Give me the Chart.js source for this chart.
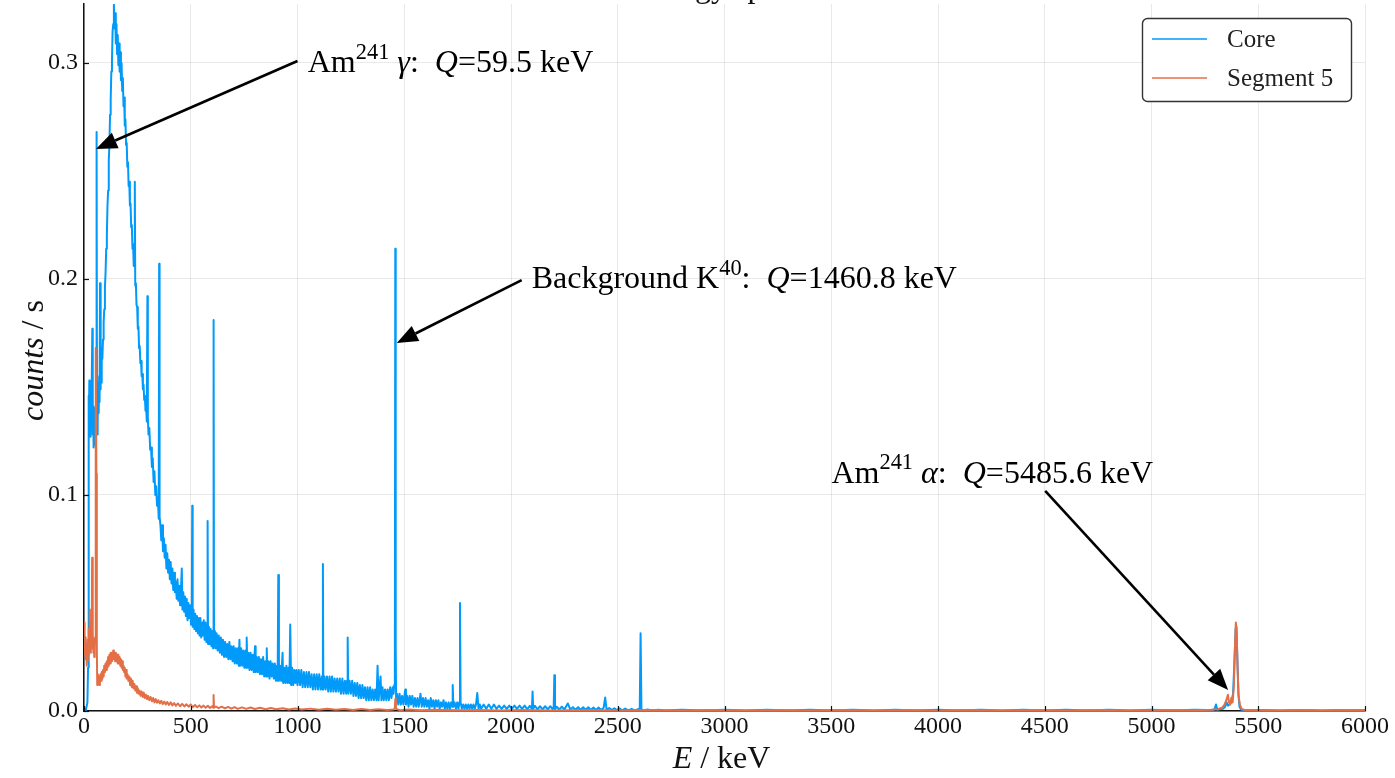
<!DOCTYPE html>
<html><head><meta charset="utf-8">
<script src="https://cdn.jsdelivr.net/npm/chart.js@4.4.1/dist/chart.umd.min.js"></script>
<style>html,body{margin:0;padding:0;background:#fff;overflow:hidden}canvas{display:block}</style>
</head><body>
<canvas id="c" width="1395" height="778"></canvas>
<script>
// ---------- data ----------
const chartTitle = 'Energy spectra';
const seriesNames = ['Core', 'Segment 5'];
const xTicks = [0,500,1000,1500,2000,2500,3000,3500,4000,4500,5000,5500,6000];
const yTicks = [0.0,0.1,0.2,0.3];
const xRange = [0, 6000];
const yRange = [0, 0.3273];

// Core detector: [energy keV, counts/s]
const coreSpectrum = [
[0,0],[4,0.001],[8,0],[12,0.002],[16,0.004],[19,0.02],
[21,0.146],[23,0.128],[25,0.153],[27,0.131],[29,0.149],[31,0.127],[33,0.145],[35,0.132],[37,0.15],[39,0.177],[41,0.128],[43,0.141],[45,0.122],[47,0.138],[49,0.124],[51,0.14],[53,0.123],[55,0.137],[57,0.13],[59,0.268],[61,0.128],[63,0.146],[65,0.134],[67,0.152],[69,0.138],[71,0.155],[73,0.143],[75,0.198],[77,0.149],[79,0.16],[81,0.152],[83,0.168],
[86,0.163],[89,0.172],[92,0.18],[95,0.186],[98,0.196],[101,0.203],[104,0.214],[107,0.22],[110,0.234],[113,0.241],[116,0.255],[119,0.262],[122,0.276],[125,0.283],[128,0.296],[131,0.301],[134,0.315],[137,0.318],[140,0.327],[143,0.316],[146,0.323],[149,0.309],[152,0.318],[155,0.304],[158,0.313],[161,0.299],[164,0.309],[167,0.296],[170,0.305],[173,0.292],[176,0.3],[179,0.287],[182,0.293],[185,0.28],[188,0.284],[191,0.271],[194,0.274],[197,0.262],[200,0.263],[203,0.252],[206,0.254],[209,0.243],[212,0.245],[215,0.234],[218,0.235],[221,0.224],[224,0.225],[227,0.214],[230,0.216],[233,0.206],[236,0.207],[238,0.245],[240,0.197],[243,0.198],[246,0.188],[249,0.187],[252,0.177],[255,0.178],[258,0.168],[261,0.169],[264,0.161],[267,0.162],[270,0.155],[273,0.156],[276,0.149],[279,0.151],[282,0.144],[285,0.146],[288,0.139],[291,0.141],[294,0.134],[297,0.192],[299,0.136],[302,0.128],
[306,0.131],[310,0.121],[314,0.122],[318,0.113],[322,0.117],[326,0.106],[330,0.111],[334,0.1],[338,0.104],[342,0.095],[346,0.099],[350,0.089],[352,0.207],[354,0.09],[358,0.086],[362,0.079],[366,0.086],[370,0.074],[374,0.08],[378,0.071],[382,0.077],[386,0.066],[390,0.073],[394,0.064],[398,0.07],[402,0.061],
[406,0.069],[410,0.059],[414,0.066],[418,0.056],[422,0.064],[426,0.055],[430,0.06],[434,0.052],[438,0.061],[442,0.051],[446,0.058],[450,0.049],[454,0.056],[458,0.066],[461,0.047],[465,0.055],[469,0.046],[473,0.053],[477,0.044],[481,0.052],[485,0.042],[489,0.05],[493,0.043],[497,0.049],[501,0.04],[505,0.047],[507,0.095],[509,0.039],[513,0.047],[517,0.038],[521,0.045],[525,0.037],[529,0.044],[533,0.036],[537,0.043],[541,0.035],[545,0.043],[549,0.034],[553,0.041],[557,0.035],[561,0.042],[565,0.033],[569,0.041],[573,0.032],[577,0.04],[579,0.088],[581,0.031],[585,0.039],[589,0.031],[593,0.038],[597,0.03],[601,0.037],[605,0.029],[607,0.181],[609,0.03],[613,0.037],[617,0.029],[621,0.036],[626,0.028],[631,0.035],[636,0.027],[641,0.034],[646,0.026],[651,0.033],[656,0.025],[661,0.032],[666,0.025],[671,0.031],[676,0.024],[681,0.032],[686,0.024],[691,0.03],[696,0.023],[701,0.03],[706,0.022],[711,0.029],[716,0.022],[721,0.029],[725,0.021],[728,0.033],[731,0.021],[736,0.029],[741,0.021],[746,0.028],[751,0.02],[756,0.028],[759,0.02],[762,0.034],[765,0.02],[770,0.027],[775,0.019],[780,0.027],[785,0.019],[790,0.026],[795,0.018],[799,0.026],[801,0.03],[804,0.018],[809,0.025],[814,0.018],[819,0.025],[824,0.017],[829,0.024],[834,0.017],[839,0.025],[844,0.016],[849,0.023],[853,0.016],[856,0.029],[859,0.016],[864,0.023],[869,0.015],[874,0.023],[879,0.016],[884,0.022],[889,0.015],[894,0.022],[899,0.014],[904,0.021],[907,0.014],[910,0.063],[913,0.014],[918,0.021],[923,0.014],[927,0.021],[930,0.027],[933,0.013],[938,0.02],[943,0.013],[948,0.021],[953,0.013],[958,0.02],[962,0.013],[966,0.04],[970,0.012],[975,0.02],[980,0.012],[985,0.019],[990,0.013],[995,0.019],[1000,0.012],[1006,0.019],[1012,0.012],[1018,0.019],[1024,0.011],[1030,0.018],[1036,0.011],[1042,0.018],[1048,0.011],[1054,0.018],[1060,0.011],[1066,0.017],[1072,0.01],[1078,0.017],[1084,0.01],[1090,0.017],[1096,0.01],[1102,0.017],[1108,0.01],[1114,0.016],[1117,0.01],[1119,0.068],[1121,0.01],[1126,0.016],[1132,0.01],[1138,0.016],[1144,0.009],[1150,0.016],[1156,0.009],[1162,0.016],[1168,0.009],[1174,0.015],[1180,0.009],[1186,0.015],[1192,0.009],[1198,0.015],[1204,0.008],[1210,0.015],[1216,0.008],[1222,0.014],[1228,0.008],[1232,0.014],[1235,0.034],[1238,0.008],[1244,0.014],[1250,0.008],[1256,0.014],[1262,0.007],[1268,0.013],[1274,0.007],[1280,0.013],[1286,0.006],[1292,0.012],[1298,0.006],[1304,0.012],[1310,0.006],[1316,0.011],[1322,0.005],[1328,0.011],[1334,0.005],[1340,0.011],[1346,0.005],[1352,0.01],[1358,0.005],[1364,0.01],[1370,0.005],[1375,0.021],[1380,0.005],[1385,0.011],[1389,0.016],[1393,0.005],[1398,0.011],[1404,0.005],[1410,0.01],[1416,0.005],[1422,0.01],[1428,0.005],[1434,0.011],[1440,0.006],[1446,0.011],[1450,0.008],[1453,0.012],
[1456,0.02],[1458,0.214],[1460,0.03],[1462,0.004],[1466,0.008],[1472,0.003],[1478,0.008],[1484,0.003],[1490,0.007],[1496,0.003],[1502,0.008],[1505,0.01],[1508,0.003],[1514,0.007],[1520,0.002],[1526,0.007],[1532,0.003],[1538,0.007],[1544,0.002],[1550,0.006],[1556,0.002],[1562,0.006],[1568,0.002],[1576,0.008],[1582,0.002],[1588,0.006],[1594,0.002],[1600,0.006],[1606,0.002],[1612,0.005],[1618,0.001],[1624,0.006],[1630,0.002],[1636,0.005],[1642,0.001],[1648,0.005],[1654,0.002],[1660,0.005],[1666,0.001],[1672,0.004],[1678,0.002],[1684,0.005],[1690,0.001],[1696,0.004],[1702,0.001],[1708,0.004],[1714,0.001],[1720,0.004],[1724,0.002],[1727,0.012],[1730,0.002],[1736,0.004],[1742,0.001],[1748,0.004],[1754,0.001],[1758,0.004],[1761,0.05],[1764,0.004],[1770,0.001],[1776,0.003],[1782,0.001],[1788,0.003],[1794,0.001],[1800,0.003],[1806,0.001],[1812,0.003],[1818,0.001],[1824,0.003],[1830,0.001],[1836,0.003],[1842,0.0083],[1848,0.001],[1854,0.003],[1860,0.001],[1872,0.003],[1884,0.001],[1896,0.003],[1908,0.001],[1920,0.003],[1932,0.001],[1944,0.0025],[1956,0.001],[1968,0.0025],[1980,0.001],[1992,0.0025],[2004,0.001],[2016,0.0025],[2028,0.001],[2040,0.0025],[2052,0.001],[2064,0.0025],[2076,0.0008],[2088,0.0024],[2098,0.001],[2101,0.009],[2104,0.001],[2112,0.0024],[2124,0.0008],[2136,0.0022],[2148,0.0008],[2160,0.0022],[2172,0.0008],[2184,0.0022],[2196,0.0008],[2200,0.002],[2203,0.0166],[2206,0.0008],[2214,0.002],[2226,0.0007],[2238,0.002],[2250,0.0007],[2266,0.0035],[2278,0.0007],[2290,0.0018],[2302,0.0006],[2314,0.0018],[2326,0.0006],[2338,0.0017],[2350,0.0006],[2362,0.0017],[2374,0.0005],[2386,0.0016],[2398,0.0005],[2410,0.0016],[2422,0.0005],[2434,0.0015],[2441,0.0062],[2448,0.0005],[2460,0.0014],[2472,0.0004],[2484,0.0013],[2496,0.0004],[2508,0.0012],[2520,0.0003],[2535,0.0011],[2550,0.0003],[2565,0.001],[2580,0.0002],[2595,0.0008],[2603,0.001],[2607,0.036],[2611,0.0008],[2620,0.0002],[2640,0.0007],[2660,0.0002],[2690,0.0006],[2720,0.0002],
[2800,0.0006],[2900,0.0002],[3000,0.0006],[3100,0.0002],[3200,0.0006],[3300,0.0002],[3400,0.0006],[3500,0.0002],[3600,0.0006],[3700,0.0002],[3800,0.0006],[3900,0.0002],[4000,0.0006],[4100,0.0002],[4200,0.0006],[4300,0.0002],[4400,0.0006],[4500,0.0002],[4600,0.0006],[4700,0.0002],[4800,0.0006],[4900,0.0002],[5000,0.0006],[5100,0.0002],[5200,0.0006],
[5260,0.0005],[5280,0.0003],[5295,0.0008],[5302,0.003],[5308,0.0006],[5320,0.0008],[5335,0.001],[5345,0.002],[5352,0.004],[5358,0.0025],[5366,0.003],[5374,0.004],[5382,0.008],[5388,0.022],[5394,0.038],[5398,0.039],[5402,0.025],[5407,0.008],[5412,0.002],[5420,0.0006],[5440,0.0003],
[5500,0.0005],[5600,0.0002],[5700,0.0005],[5800,0.0002],[5900,0.0005],[6000,0.0003]
];

// Segment 5: [energy keV, counts/s]
const segSpectrum = [
[0,0.03],[2,0.041],[4,0.026],[6,0.034],[8,0.024],[10,0.031],[12,0.021],[14,0.029],[16,0.023],[18,0.033],[20,0.026],[22,0.038],[24,0.028],[26,0.047],[28,0.03],[30,0.036],[32,0.027],[34,0.041],[36,0.029],[38,0.071],[40,0.031],[42,0.036],[44,0.027],[46,0.033],[48,0.025],[50,0.03],[52,0.034],[54,0.045],[56,0.168],[58,0.11],[60,0.03],[62,0.012],[65,0.017],[68,0.013],[71,0.016],[74,0.012],[77,0.017],[80,0.014],[83,0.018],[86,0.015],[89,0.019],[92,0.016],[95,0.021],[98,0.018],[101,0.022],[104,0.019],[107,0.023],[110,0.02],[113,0.025],[116,0.021],[119,0.026],[122,0.022],[125,0.027],[128,0.023],[131,0.027],[134,0.024],[137,0.028],[140,0.024],[143,0.027],[146,0.023],[149,0.027],[152,0.023],[155,0.026],[158,0.022],[161,0.026],[164,0.022],[167,0.025],[170,0.021],[173,0.024],[176,0.02],[179,0.023],[182,0.019],[185,0.021],[188,0.018],[191,0.02],[194,0.016],[197,0.019],[200,0.015],[204,0.017],[208,0.014],[212,0.016],[216,0.012],[220,0.015],[224,0.011],[228,0.014],[232,0.0105],[236,0.0125],[240,0.0095],[244,0.0115],[248,0.0085],[252,0.0105],[256,0.008],[260,0.0095],[265,0.007],[270,0.009],[275,0.0065],[280,0.0085],[285,0.006],[290,0.0075],[295,0.0055],[300,0.007],[306,0.005],[312,0.0065],[318,0.0045],[324,0.006],[330,0.004],[336,0.0055],[342,0.0038],[348,0.005],[355,0.0035],[362,0.0047],[369,0.0032],[376,0.0044],[383,0.003],[390,0.0042],[398,0.0028],[406,0.004],[414,0.0026],[422,0.0037],[430,0.0024],[440,0.0035],[450,0.0022],[460,0.0033],[470,0.0021],[480,0.0031],[490,0.002],[500,0.003],[510,0.0018],[520,0.0028],[530,0.0017],[540,0.0026],[550,0.0016],[560,0.0025],[570,0.0015],[580,0.0024],[590,0.0014],[600,0.0022],[605,0.0015],[607,0.0074],[609,0.0015],[618,0.0021],[630,0.0013],[645,0.002],[660,0.0012],[675,0.0019],[690,0.0011],[705,0.0018],[720,0.001],[740,0.0017],[760,0.001],[780,0.0016],[800,0.0009],[825,0.0015],[850,0.0008],[875,0.0014],[900,0.0008],[930,0.0013],[960,0.0007],[990,0.0012],[1020,0.0007],[1060,0.0011],[1100,0.0006],[1140,0.001],[1180,0.0006],[1220,0.0009],[1260,0.0005],[1300,0.0009],[1340,0.0005],[1380,0.0008],[1420,0.0005],[1450,0.0007],[1456,0.0015],[1458,0.0055],[1461,0.001],[1480,0.0004],[1520,0.0007],[1580,0.0003],[1650,0.0006],[1750,0.0003],[1850,0.0005],[1950,0.0002],[2050,0.0005],[2200,0.0002],[2350,0.0005],[2500,0.0002],[2650,0.0005],[2800,0.0002],[2950,0.0005],[3100,0.0002],[3250,0.0005],[3400,0.0002],[3550,0.0005],[3700,0.0002],[3850,0.0005],[4000,0.0002],[4150,0.0005],[4300,0.0002],[4450,0.0005],[4600,0.0002],[4750,0.0005],[4900,0.0002],[5050,0.0005],[5200,0.0003],[5280,0.0006],[5310,0.0008],[5330,0.0015],[5342,0.003],[5352,0.0055],[5358,0.0075],[5363,0.004],[5368,0.003],[5374,0.006],[5380,0.004],[5386,0.012],[5391,0.03],[5395,0.041],[5399,0.036],[5403,0.02],[5408,0.007],[5414,0.003],[5422,0.001],[5440,0.0004],[5500,0.0005],[5600,0.0002],[5700,0.0005],[5800,0.0002],[5900,0.0005],[6000,0.0003]
];

// annotations (arrow tail, arrow tip, label anchor — all in data units)
const annotations = [
  {tail:[1000,0.3009], tip:[56,0.2602], at:[1048,0.3005],
   parts:[{t:'Am'},{t:'241',sup:1},{t:' '},{t:'\u03B3',it:1},{t:':  '},{t:'Q',it:1},{t:'=59.5 keV'}]},
  {tail:[2050,0.1995], tip:[1465,0.1704], at:[2097,0.2005],
   parts:[{t:'Background K'},{t:'40',sup:1},{t:':  '},{t:'Q',it:1},{t:'=1460.8 keV'}]},
  {tail:[4502,0.1019], tip:[5359,0.0097], at:[3501,0.1106],
   parts:[{t:'Am'},{t:'241',sup:1},{t:' '},{t:'\u03B1',it:1},{t:':  '},{t:'Q',it:1},{t:'=5485.6 keV'}]}
];

// ---------- style ----------
const COLORS = ['#009AFA', '#E36F47'];
const FF = '"Liberation Serif","Times New Roman",serif';
const fnt = (s, it) => (it ? 'italic ' : '') + s + 'px ' + FF;

function drawRich(ctx, parts, x, base, size, align) {
  const ws = []; let w = 0;
  for (const p of parts) { ctx.font = fnt(p.sup ? size*0.7 : size, p.it); const m = ctx.measureText(p.t).width; ws.push(m); w += m; }
  let cx = align === 'center' ? x - w/2 : x;
  ctx.textAlign = 'left'; ctx.textBaseline = 'alphabetic';
  parts.forEach((p, i) => {
    ctx.font = fnt(p.sup ? size*0.7 : size, p.it);
    ctx.fillText(p.t, cx, p.sup ? base - size*0.42 : base);
    cx += ws[i];
  });
}

function arrow(ctx, x1, y1, x2, y2) {
  const a = Math.atan2(y2 - y1, x2 - x1), L = 21, W = 8.5;
  const bx = x2 - L*Math.cos(a), by = y2 - L*Math.sin(a);
  ctx.beginPath(); ctx.moveTo(x1, y1); ctx.lineTo(bx, by);
  ctx.lineWidth = 2.6; ctx.strokeStyle = '#000'; ctx.stroke();
  ctx.beginPath(); ctx.moveTo(x2, y2);
  ctx.lineTo(bx + W*Math.sin(a), by - W*Math.cos(a));
  ctx.lineTo(bx - W*Math.sin(a), by + W*Math.cos(a));
  ctx.closePath(); ctx.fillStyle = '#000'; ctx.fill();
}

const decor = {
  id: 'decor',
  afterDatasetsDraw(chart) {
    const {ctx, chartArea: ca, scales: {x, y}} = chart;
    ctx.save();
    // inner tick marks
    ctx.strokeStyle = '#111'; ctx.lineWidth = 1.2;
    xTicks.forEach(v => { const px = Math.round(x.getPixelForValue(v)) + 0.5; ctx.beginPath(); ctx.moveTo(px, ca.bottom); ctx.lineTo(px, ca.bottom - 5); ctx.stroke(); });
    yTicks.forEach(v => { const py = Math.round(y.getPixelForValue(v)) + 0.5; ctx.beginPath(); ctx.moveTo(ca.left, py); ctx.lineTo(ca.left + 5, py); ctx.stroke(); });
    // annotations
    const AS = 32;
    annotations.forEach(a => {
      arrow(ctx, x.getPixelForValue(a.tail[0]), y.getPixelForValue(a.tail[1]), x.getPixelForValue(a.tip[0]), y.getPixelForValue(a.tip[1]));
      ctx.fillStyle = '#000';
      drawRich(ctx, a.parts, x.getPixelForValue(a.at[0]), y.getPixelForValue(a.at[1]) + AS*0.33, AS, 'left');
    });
    // legend
    const bw = 209, bh = 83, bx = ca.right - 14 - bw, by = ca.top + 14;
    ctx.beginPath(); ctx.roundRect(bx + 0.5, by + 0.5, bw, bh, 5);
    ctx.fillStyle = '#fff'; ctx.fill(); ctx.lineWidth = 1.4; ctx.strokeStyle = '#333'; ctx.stroke();
    seriesNames.forEach((n, i) => {
      const ly = by + 21 + i*39;
      ctx.beginPath(); ctx.moveTo(bx + 10, ly); ctx.lineTo(bx + 65, ly);
      ctx.strokeStyle = COLORS[i]; ctx.lineWidth = 1.6; ctx.stroke();
      ctx.fillStyle = '#222'; ctx.font = fnt(25); ctx.textAlign = 'left'; ctx.textBaseline = 'middle';
      ctx.fillText(n, bx + 85, ly + 1);
    });
    // axis titles
    ctx.fillStyle = '#111';
    drawRich(ctx, [{t:'E', it:1}, {t:' / keV'}], (ca.left + ca.right)/2 - 3, 768, 32, 'center');
    ctx.save();
    ctx.translate(43, (ca.top + ca.bottom)/2 + 3); ctx.rotate(-Math.PI/2);
    drawRich(ctx, [{t:'counts', it:1}, {t:' / s'}], 0, 0, 32, 'center');
    ctx.restore();
    // title (cut by the top edge)
    ctx.font = fnt(32); ctx.textAlign = 'center'; ctx.textBaseline = 'alphabetic'; ctx.fillStyle = '#111';
    ctx.fillText(chartTitle, (ca.left + ca.right)/2 + 6, -3);
    ctx.restore();
  }
};

const toXY = arr => arr.map(p => ({x: p[0], y: p[1]}));

new Chart(document.getElementById('c'), {
  type: 'line',
  data: {
    datasets: [
      {label: seriesNames[0], data: toXY(coreSpectrum), borderColor: COLORS[0], borderWidth: 2, pointRadius: 0, borderJoinStyle: 'round', fill: false, order: 2},
      {label: seriesNames[1], data: toXY(segSpectrum), borderColor: COLORS[1], borderWidth: 2, pointRadius: 0, borderJoinStyle: 'round', fill: false, order: 1}
    ]
  },
  options: {
    responsive: false, animation: false, events: [],
    layout: {padding: {left: 0, right: 30, top: 4, bottom: 0}},
    plugins: {legend: {display: false}, tooltip: {enabled: false}, title: {display: false}},
    scales: {
      x: {
        type: 'linear', min: xRange[0], max: xRange[1],
        afterBuildTicks: s => { s.ticks = xTicks.map(v => ({value: v})); },
        afterFit: s => { s.height = 67; s.paddingLeft = 0; s.paddingRight = 0; },
        ticks: {autoSkip: false, maxRotation: 0, padding: 1, color: '#111', font: {family: FF, size: 24}, callback: v => String(v)},
        grid: {color: 'rgba(0,0,0,0.085)', lineWidth: 1, drawTicks: false},
        border: {color: '#111', width: 1.5}
      },
      y: {
        type: 'linear', min: yRange[0], max: yRange[1],
        afterBuildTicks: s => { s.ticks = yTicks.map(v => ({value: v})); },
        afterFit: s => { s.width = 84; s.paddingTop = 0; s.paddingBottom = 0; },
        ticks: {padding: 6, color: '#111', font: {family: FF, size: 24}, callback: v => Number(v).toFixed(1)},
        grid: {color: 'rgba(0,0,0,0.085)', lineWidth: 1, drawTicks: false},
        border: {color: '#111', width: 1.5}
      }
    }
  },
  plugins: [decor]
});
</script>
</body></html>
